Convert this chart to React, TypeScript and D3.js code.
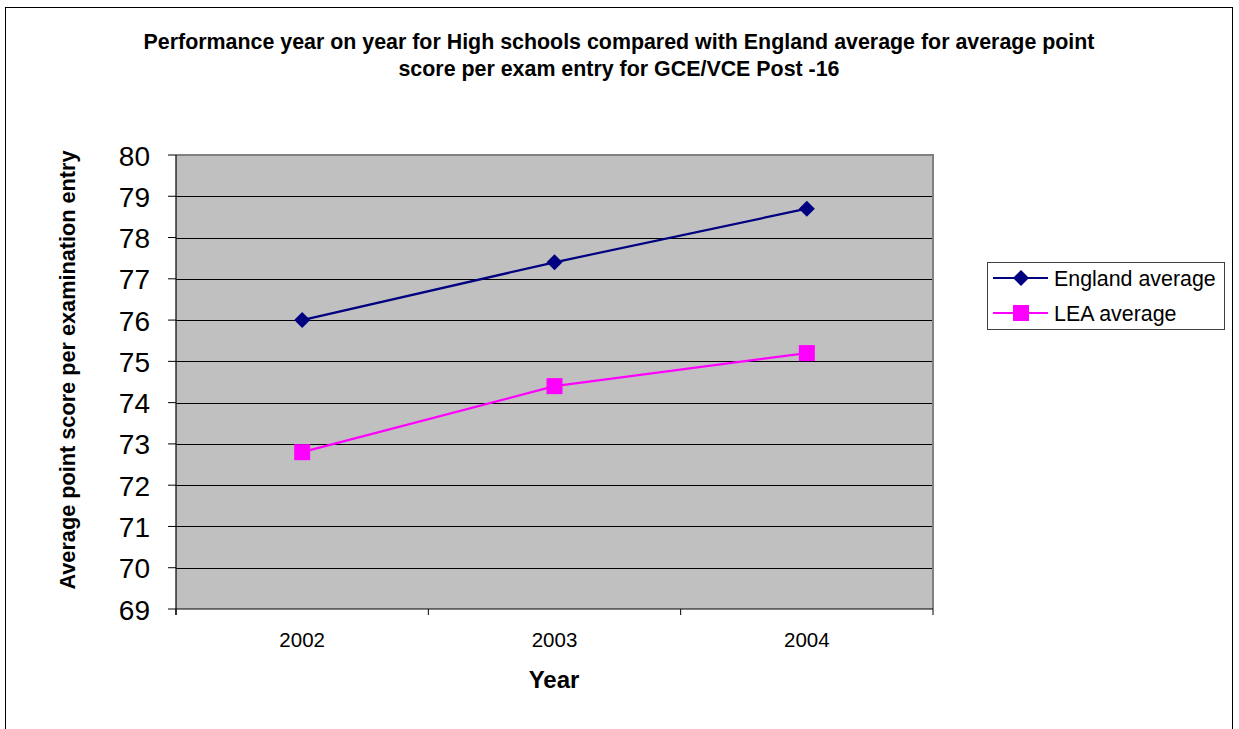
import React from "react";
import * as d3 from "d3";

const years = ["2002", "2003", "2004"];
const englandAvg = [76.0, 77.4, 78.7];
const leaAvg = [72.8, 74.4, 75.2];
const yTicks = [69, 70, 71, 72, 73, 74, 75, 76, 77, 78, 79, 80];
const titleLines = [
  "Performance year on year for High schools compared with England average for average point",
  "score per exam entry for GCE/VCE Post -16",
];
const seriesNames = ["England average", "LEA average"];

export default function App() {
  const W = 1239, H = 729;
  const left = 176, right = 933, top = 155, bottom = 609;
  const x = d3.scaleBand().domain(years).range([left, right]).padding(0);
  const y = d3.scaleLinear().domain([69, 80]).range([bottom, top]);
  const cx = (yr: string) => (x(yr) as number) + x.bandwidth() / 2;
  const line = d3
    .line<[string, number]>()
    .x((d) => cx(d[0]))
    .y((d) => y(d[1]));
  const engPts = years.map((yr, i) => [yr, englandAvg[i]] as [string, number]);
  const leaPts = years.map((yr, i) => [yr, leaAvg[i]] as [string, number]);
  const font = "'Liberation Sans', Arial, sans-serif";
  const boundaries = [...years.map((yr) => x(yr) as number), right];
  const diamond = (px: number, py: number, r: number) =>
    `M${px},${py - r}L${px + r},${py}L${px},${py + r}L${px - r},${py}Z`;

  return (
    <svg
      width={W}
      height={H}
      style={{ position: "absolute", left: 0, top: 0, fontFamily: font }}
    >
      <rect x={0} y={0} width={W} height={H} fill="#fff" />
      <rect x={5.5} y={7.5} width={1227} height={740} fill="#fff" stroke="#000" strokeWidth={1} />
      {titleLines.map((t, i) => (
        <text key={i} x={619} y={49 + i * 27} textAnchor="middle" fontSize={21.4} fontWeight="bold">
          {t}
        </text>
      ))}
      <rect x={left} y={top} width={right - left} height={bottom - top} fill="#c0c0c0" />
      {yTicks.slice(1, -1).map((t) => (
        <line key={t} x1={left} x2={right} y1={Math.round(y(t)) + 0.5} y2={Math.round(y(t)) + 0.5} stroke="#000" strokeWidth={1} />
      ))}
      <path d={`M${left},${top}H${right}V${bottom}`} fill="none" stroke="#808080" strokeWidth={2} />
      <line x1={left} x2={left} y1={top} y2={bottom + 6} stroke="#000" strokeWidth={1.2} />
      <line x1={left} x2={right} y1={bottom} y2={bottom} stroke="#000" strokeWidth={1.2} />
      {yTicks.map((t) => (
        <g key={t}>
          <line x1={left - 8} x2={left} y1={y(t)} y2={y(t)} stroke="#000" strokeWidth={1} />
          <text x={150} y={y(t) + 10.5} textAnchor="end" fontSize={28}>
            {t}
          </text>
        </g>
      ))}
      {boundaries.map((b, i) => (
        <line key={i} x1={b} x2={b} y1={bottom} y2={bottom + 6} stroke="#000" strokeWidth={1} />
      ))}
      {years.map((yr) => (
        <text key={yr} x={cx(yr)} y={647} textAnchor="middle" fontSize={20.5}>
          {yr}
        </text>
      ))}
      <text x={554} y={688} textAnchor="middle" fontSize={24} fontWeight="bold">
        Year
      </text>
      <text
        transform={`translate(75,370) rotate(-90)`}
        textAnchor="middle"
        fontSize={21.7}
        fontWeight="bold"
      >
        Average point score per examination entry
      </text>
      <path d={line(engPts) || ""} fill="none" stroke="#000080" strokeWidth={2.2} />
      {engPts.map((d) => (
        <path key={d[0]} d={diamond(cx(d[0]), y(d[1]), 8)} fill="#000080" />
      ))}
      <path d={line(leaPts) || ""} fill="none" stroke="#ff00ff" strokeWidth={2.2} />
      {leaPts.map((d) => (
        <rect key={d[0]} x={cx(d[0]) - 8} y={y(d[1]) - 8} width={16} height={16} fill="#ff00ff" />
      ))}
      <rect x={987.5} y={262.5} width={237} height={67} fill="#fff" stroke="#404040" strokeWidth={1} />
      <line x1={993} x2={1048} y1={278} y2={278} stroke="#000080" strokeWidth={2.2} />
      <path d={diamond(1021, 278, 8)} fill="#000080" />
      <line x1={993} x2={1048} y1={313} y2={313} stroke="#ff00ff" strokeWidth={2.2} />
      <rect x={1013} y={305} width={16} height={16} fill="#ff00ff" />
      {seriesNames.map((n, i) => (
        <text key={n} x={1054} y={286 + i * 34.5} fontSize={21.4}>
          {n}
        </text>
      ))}
    </svg>
  );
}
